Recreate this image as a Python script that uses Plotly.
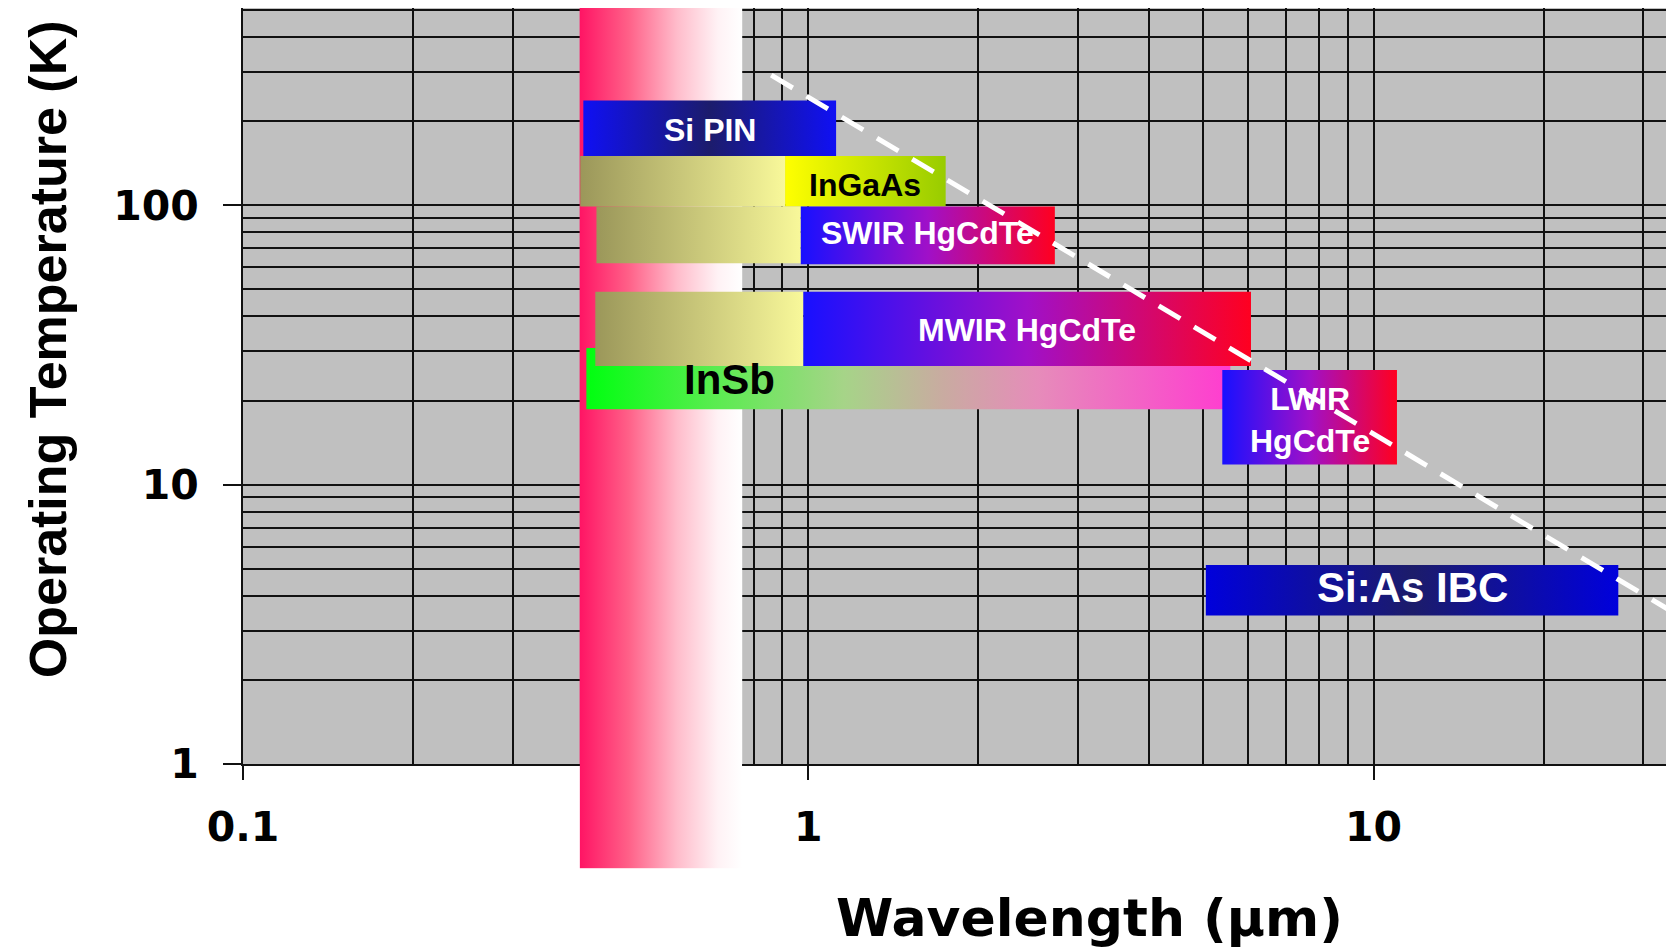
import base64
import numpy as np
import plotly.graph_objects as go

# ---------------- data ----------------
x_range = [0.1, 34.0]          # wavelength axis (µm)
y_range = [1.0, 508.0]         # temperature axis (K)
x_major = [0.1, 1, 10]
x_major_text = ["0.1", "1", "10"]
x_minor = [0.2, 0.3, 0.4, 0.5, 0.6, 0.7, 0.8, 0.9,
           2, 3, 4, 5, 6, 7, 8, 9, 20, 30]
y_major = [1, 10, 100]
y_major_text = ["1", "10", "100"]
y_minor = [2, 3, 4, 5, 6, 7, 8, 9,
           20, 30, 40, 50, 60, 70, 80, 90,
           200, 300, 400, 500]

# visible band (µm) and its temperature extent (K)
visible_band = [0.394, 0.764]
visible_band_T = [0.423, 508.0]

# detector boxes (drawn in this order)
detectors = ["Si PIN", "InGaAs", "SWIR HgCdTe", "InSb",
             "MWIR HgCdTe", "LWIR HgCdTe", "Si:As IBC"]
lam_min = [0.40, 0.91, 0.97, 0.405, 0.98, 5.4, 5.05]
lam_max = [1.12, 1.75, 2.73, 5.58, 6.07, 11.0, 27.1]
T_min = [150, 99, 61.5, 18.6, 26.6, 11.8, 3.4]
T_max = [237, 150, 99, 30.8, 49, 25.7, 5.16]

# extended (visible) response segments
ext_names = ["InGaAs", "SWIR HgCdTe", "MWIR HgCdTe"]
ext_lam_min = [0.395, 0.422, 0.42]
ext_lam_max = [0.91, 0.97, 0.98]
ext_T_min = [99, 62, 26.6]
ext_T_max = [150, 99, 49]

# label text and special label placement
label_text = {"LWIR HgCdTe": "LWIR<br>HgCdTe"}
label_lam = {"InSb": 0.726}
label_T = {"InSb": 23.5}

# dashed trend line
trend_lam = [0.86, 40]
trend_T = [292, 2.86]

# ---------------- styles ----------------
band_scale = [[0, "#ff1464"], [0.3, "#ff6088"], [0.6, "#ffbccb"],
              [0.85, "#fff2f5"], [1, "#ffffff"]]
olive_scale = [[0, "#9b975a"], [1, "#f8f89a"]]
hgcdte_scale = [[0, "#1810ff"], [0.5, "#a010c8"], [1, "#ff0020"]]
styles = {
    "Si PIN": dict(scale=[[0, "#1010f4"], [0.5, "#1c1c6c"], [1, "#1010f4"]],
                   color="white", size=32, shift=-2),
    "InGaAs": dict(scale=[[0, "#ffff00"], [1, "#98cc00"]], color="black",
                   size=32, shift=-4),
    "SWIR HgCdTe": dict(scale=hgcdte_scale, color="white", size=32, shift=2),
    "InSb": dict(scale=[[0, "#00ff10"], [0.2, "#5aec50"], [0.4, "#a6d488"],
                        [0.55, "#c8aca0"], [0.7, "#e68cba"], [1, "#ff3cd0"]],
                 color="black", size=42, shift=1),
    "MWIR HgCdTe": dict(scale=hgcdte_scale, color="white", size=32, shift=-1),
    "LWIR HgCdTe": dict(scale=hgcdte_scale, color="white", size=32, shift=-3),
    "Si:As IBC": dict(scale=[[0, "#0000dc"], [0.5, "#1c1c6a"], [1, "#0000dc"]],
                      color="white", size=42, shift=3),
}
LABEL_FONT = "Liberation Sans, Arial, sans-serif"
AXIS_FONT = "DejaVu Sans, Verdana, sans-serif"


def rect_trace(x0, x1, y0, y1, scale):
    return go.Scatter(
        x=[x0, x1, x1, x0, x0], y=[y0, y0, y1, y1, y0],
        mode="lines", fill="toself", line=dict(width=0),
        fillgradient=dict(type="horizontal", colorscale=scale),
        hoverinfo="skip", showlegend=False)


fig = go.Figure()

# visible band inside the plot
fig.add_trace(rect_trace(visible_band[0], visible_band[1],
                         visible_band_T[0], visible_band_T[1], band_scale))

labels = []
for i, name in enumerate(detectors):
    if name in ext_names:
        j = ext_names.index(name)
        fig.add_trace(rect_trace(ext_lam_min[j], ext_lam_max[j],
                                 ext_T_min[j], ext_T_max[j], olive_scale))
    fig.add_trace(rect_trace(lam_min[i], lam_max[i], T_min[i], T_max[i],
                             styles[name]["scale"]))
    cx = label_lam.get(name, float(np.sqrt(lam_min[i] * lam_max[i])))
    cy = label_T.get(name, float(np.sqrt(T_min[i] * T_max[i])))
    labels.append((name, cx, cy))

# dashed trend line
fig.add_trace(go.Scatter(
    x=trend_lam, y=trend_T, mode="lines",
    line=dict(color="white", width=5, dash="25px,16px"),
    hoverinfo="skip", showlegend=False))

# detector labels (annotations on log axes take log10 positions)
for name, cx, cy in labels:
    st = styles[name]
    fig.add_annotation(
        x=np.log10(cx), y=np.log10(cy), xref="x", yref="y",
        text=label_text.get(name, name), showarrow=False,
        xanchor="center", yanchor="middle", yshift=st["shift"],
        font=dict(family=LABEL_FONT, size=st["size"], color=st["color"],
                  weight="bold"))

# band continuation below the axis (gradient image)
def gradient_uri(scale):
    stops = "".join('<stop offset="%g" stop-color="%s"/>' % (o, c) for o, c in scale)
    svg = ('<svg xmlns="http://www.w3.org/2000/svg" width="100" height="100" '
           'viewBox="0 0 100 100" preserveAspectRatio="none"><defs>'
           '<linearGradient id="g" x1="0" y1="0" x2="1" y2="0">' + stops +
           '</linearGradient></defs><rect x="0" y="0" width="100" height="100" '
           'fill="url(#g)"/></svg>')
    return "data:image/svg+xml;base64," + base64.b64encode(svg.encode()).decode()

ly0, ly1 = np.log10(y_range[0]), np.log10(y_range[1])
ext_depth = (ly0 - np.log10(visible_band_T[0])) / (ly1 - ly0)
fig.add_layout_image(dict(
    source=gradient_uri(band_scale), xref="x", yref="paper",
    x=np.log10(visible_band[0]), y=0,
    sizex=np.log10(visible_band[1]) - np.log10(visible_band[0]),
    sizey=ext_depth, xanchor="left", yanchor="top",
    sizing="stretch", layer="above"))

grid = dict(showgrid=True, gridcolor="#111111", gridwidth=2)
fig.update_xaxes(
    type="log", range=[np.log10(x_range[0]), np.log10(x_range[1])],
    automargin=False,
    tickmode="array", tickvals=x_major, ticktext=x_major_text,
    ticks="outside", ticklen=14, tickwidth=2, tickcolor="#111111",
    showline=True, linecolor="#111111", linewidth=2, zeroline=False,
    minor=dict(tickmode="array", tickvals=x_minor, ticks="", **grid),
    tickfont=dict(family=AXIS_FONT, size=41, color="black", weight="bold"),
    ticklabelstandoff=12, **grid)
fig.update_yaxes(
    type="log", range=[ly0, ly1],
    automargin=False,
    tickmode="array", tickvals=y_major, ticktext=y_major_text,
    ticks="outside", ticklen=18, tickwidth=2, tickcolor="#111111",
    showline=True, linecolor="#111111", linewidth=2, zeroline=False,
    minor=dict(tickmode="array", tickvals=y_minor, ticks="", **grid),
    tickfont=dict(family=AXIS_FONT, size=41, color="black", weight="bold"),
    ticklabelstandoff=16, **grid)

fig.add_annotation(
    text="Operating Temperature (K)", textangle=-90,
    xref="paper", yref="paper", x=-0.1366, y=0.548,
    xanchor="center", yanchor="middle", showarrow=False,
    font=dict(family="Liberation Sans, Arial", size=52, color="black",
              weight="bold"))
fig.add_annotation(
    text="Wavelength (µm)",
    xref="paper", yref="paper", x=0.5918, y=-0.2035,
    xanchor="center", yanchor="middle", showarrow=False,
    font=dict(family=AXIS_FONT, size=52, color="black", weight="bold"))

# the page adds an 8 px body margin, so the figure is 8 px smaller
fig.update_layout(
    template="none",
    width=1666, height=942,
    margin=dict(l=235, r=0, t=0, b=186, pad=0),
    paper_bgcolor="white", plot_bgcolor="#c0c0c0",
    showlegend=False)

fig.write_html("out.html")
